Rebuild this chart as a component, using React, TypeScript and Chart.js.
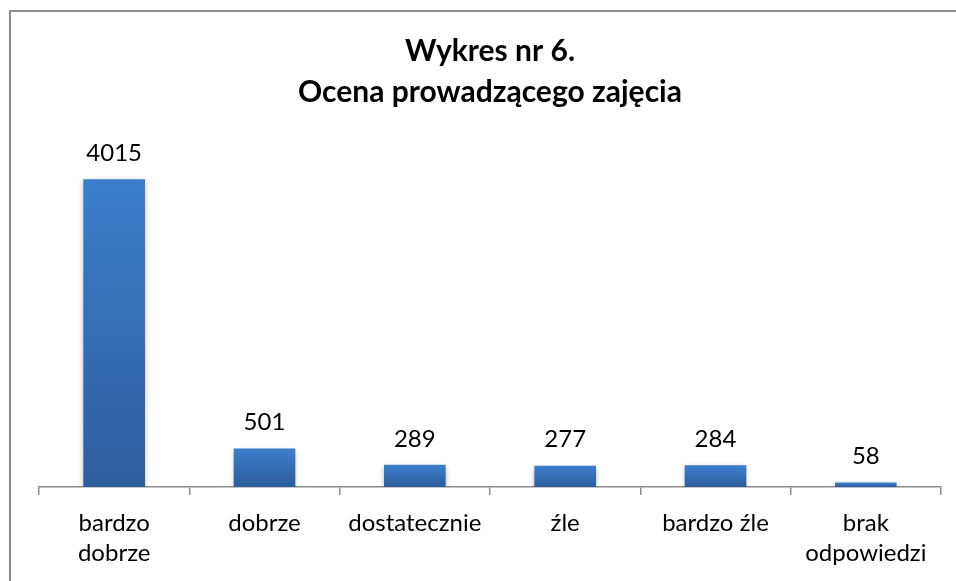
import React, { useEffect, useRef } from "react";
import { Chart, registerables } from "chart.js";

Chart.register(...registerables);

const categories: (string | string[])[] = [
  ["bardzo", "dobrze"],
  "dobrze",
  "dostatecznie",
  "źle",
  "bardzo źle",
  ["brak", "odpowiedzi"],
];
const values: number[] = [4015, 501, 289, 277, 284, 58];
const titleLines: string[] = ["Wykres nr 6.", "Ocena prowadzącego zajęcia"];

const FONT = "Lato, 'Open Sans', sans-serif";

const valueLabels = {
  id: "valueLabels",
  afterDatasetsDraw(chart: any) {
    const ctx = chart.ctx;
    const meta = chart.getDatasetMeta(0);
    ctx.save();
    ctx.font = `24px ${FONT}`;
    ctx.fillStyle = "#000";
    ctx.textAlign = "center";
    ctx.textBaseline = "middle";
    meta.data.forEach((el: any, i: number) => {
      ctx.fillText(String(values[i]), el.x, el.y - 26);
    });
    ctx.restore();
  },
};

const barShadow = {
  id: "barShadow",
  beforeDatasetsDraw(chart: any) {
    const ctx = chart.ctx;
    ctx.save();
    ctx.shadowColor = "rgba(0,0,0,0.28)";
    ctx.shadowBlur = 5;
    ctx.shadowOffsetX = 0;
    ctx.shadowOffsetY = 2;
  },
  afterDatasetsDraw(chart: any) {
    chart.ctx.restore();
  },
};

const frame = {
  id: "frame",
  afterDraw(chart: any) {
    const ctx = chart.ctx;
    ctx.save();
    ctx.strokeStyle = "#8c8c8c";
    ctx.lineWidth = 2;
    ctx.beginPath();
    ctx.moveTo(1, chart.height + 10);
    ctx.lineTo(1, 1);
    ctx.lineTo(chart.width + 10, 1);
    ctx.stroke();
    ctx.restore();
  },
};

export default function App() {
  const ref = useRef<HTMLCanvasElement | null>(null);
  useEffect(() => {
    if (!ref.current) return;
    const chart = new Chart(ref.current, {
      type: "bar",
      data: {
        labels: categories,
        datasets: [
          {
            data: values,
            backgroundColor: (c: any) => {
              const ch = c.chart;
              const ys = ch.scales && ch.scales.y;
              if (!ys || c.dataIndex === undefined) return "#3571BA";
              const top = ys.getPixelForValue(values[c.dataIndex]);
              const bottom = ys.getPixelForValue(0);
              if (!isFinite(top) || !isFinite(bottom) || top === bottom) return "#3571BA";
              const g = ch.ctx.createLinearGradient(0, top, 0, bottom);
              g.addColorStop(0, "#3C7ECC");
              g.addColorStop(1, "#2D5D9B");
              return g;
            },
            borderWidth: 0,
            categoryPercentage: 1,
            barPercentage: 0.41,
          },
        ],
      },
      options: {
        animation: false,
        responsive: false,
        layout: { padding: { left: 30, right: 28, top: 2, bottom: 0 } },
        plugins: {
          legend: { display: false },
          tooltip: { enabled: false },
          title: {
            display: true,
            text: titleLines,
            color: "#000",
            font: { family: FONT, size: 30, weight: "bold", lineHeight: 1.367 },
            padding: { top: 18.5, bottom: 29.5 },
          },
        },
        scales: {
          x: {
            offset: true,
            grid: {
              offset: true,
              drawOnChartArea: false,
              drawTicks: true,
              tickLength: 8,
              color: "#8c8c8c",
              lineWidth: 1.5,
            },
            border: { display: true, color: "#8c8c8c", width: 1.5 },
            ticks: {
              color: "#000",
              font: { family: FONT, size: 24, lineHeight: 1.27 },
              padding: 13,
              maxRotation: 0,
              autoSkip: false,
            },
            afterFit: (s: any) => {
              s.height = 94;
            },
          },
          y: {
            display: false,
            min: 0,
            max: 4500,
          },
        },
      },
      plugins: [barShadow, valueLabels, frame],
    });
    return () => chart.destroy();
  }, []);
  return (
    <div
      style={{
        position: "fixed",
        left: 0,
        top: 0,
        width: 956,
        height: 581,
        overflow: "hidden",
        background: "#fff",
      }}
    >
      <canvas
        ref={ref}
        width={960}
        height={571}
        style={{ display: "block", position: "absolute", left: 9, top: 10 }}
      />
    </div>
  );
}
